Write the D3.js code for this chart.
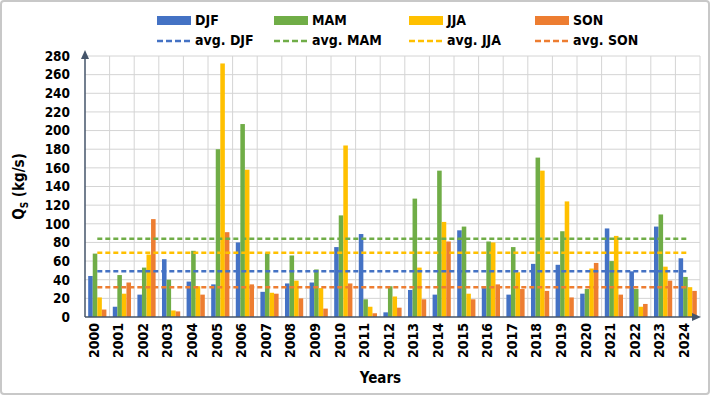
<!DOCTYPE html>
<html>
<head>
<meta charset="utf-8">
<script src="https://cdn.jsdelivr.net/npm/d3@7/dist/d3.min.js"></script>
<style>
  html, body { margin: 0; padding: 0; background: #fff; }
  svg text { font-family: "Liberation Sans Narrow", "Arial Narrow", "DejaVu Sans Condensed", sans-serif; font-weight: bold; fill: #000; }
</style>
</head>
<body>
<svg id="chart" width="710" height="395"></svg>
<script>
const years = ["2000","2001","2002","2003","2004","2005","2006","2007","2008","2009","2010","2011","2012","2013","2014","2015","2016","2017","2018","2019","2020","2021","2022","2023","2024"];
const seasons = ["DJF","MAM","JJA","SON"];
const djf = [44,11,24,62,38,35,80,27,36,37,75,89,5,29,24,93,31,24,57,56,25,95,49,97,63];
const mam = [68,45,53,40,71,180,207,69,66,51,109,19,33,127,157,97,81,75,171,92,30,60,30,110,43];
const jja = [21,25,67,7,33,272,158,26,39,31,184,11,22,53,102,25,80,48,157,124,52,87,11,54,32];
const son = [8,37,105,6,24,91,35,25,20,9,36,4,10,19,81,19,35,30,28,21,58,24,14,39,28];
const avgValues = [49,84,69,32];
const yTicks = [0,20,40,60,80,100,120,140,160,180,200,220,240,260,280];
const colors = ["#4472C4","#70AD47","#FFC000","#ED7D31"];

const seriesVals = [djf, mam, jja, son];
const W = 710, H = 395;
const plot = {left: 85, right: 700, top: 56, bottom: 317};

const svg = d3.select("#chart");

// outer frame
svg.append("rect").attr("x",1).attr("y",1).attr("width",W-2).attr("height",H-2)
  .attr("fill","#fff").attr("stroke","#c8c8c8").attr("stroke-width",2).attr("rx",3);

const x0 = d3.scaleBand().domain(years).range([plot.left, plot.right]).padding(0);
const x1 = d3.scaleBand().domain(seasons).range([0, x0.bandwidth()]).paddingInner(0).paddingOuter(0.7);
const y = d3.scaleLinear().domain([0,280]).range([plot.bottom, plot.top]);

// horizontal gridlines
svg.append("g").selectAll("line").data(yTicks.filter(t=>t>0)).join("line")
  .attr("x1", plot.left).attr("x2", plot.right)
  .attr("y1", d=>y(d)).attr("y2", d=>y(d))
  .attr("stroke","#d4d4d4").attr("stroke-width",1);

// vertical gridlines at band boundaries
svg.append("g").selectAll("line").data(years.slice(1).concat(["end"])).join("line")
  .attr("x1", (d,i)=> i < years.length-1 ? x0(d) : plot.right)
  .attr("x2", (d,i)=> i < years.length-1 ? x0(d) : plot.right)
  .attr("y1", plot.top).attr("y2", plot.bottom)
  .attr("stroke","#d4d4d4").attr("stroke-width",1);

// bars
const rows = years.map((yr,i)=>({year: yr, vals: seasons.map((s,k)=>({s, k, v: seriesVals[k][i]}))}));
const g = svg.append("g").selectAll("g").data(rows).join("g")
  .attr("transform", d=>`translate(${x0(d.year)},0)`);
g.selectAll("rect").data(d=>d.vals).join("rect")
  .attr("x", d=>x1(d.s)).attr("width", x1.bandwidth())
  .attr("y", d=>y(d.v)).attr("height", d=>y(0)-y(d.v))
  .attr("fill", d=>colors[d.k]);

// average lines
const xStart = x0(years[0]) + x0.bandwidth()/2;
const xEnd = x0(years[years.length-1]) + x0.bandwidth()/2;
svg.append("g").selectAll("line").data(avgValues).join("line")
  .attr("x1", xStart).attr("x2", xEnd)
  .attr("y1", d=>y(d)).attr("y2", d=>y(d))
  .attr("stroke", (d,i)=>colors[i]).attr("stroke-width",2.5)
  .attr("stroke-dasharray","5,3");

// axes
const axisColor = "#44546A";
const yAxis = svg.append("g").attr("transform",`translate(${plot.left},0)`)
  .call(d3.axisLeft(y).tickValues(yTicks).tickSize(0).tickPadding(15));
yAxis.select(".domain").remove();
yAxis.selectAll("text").attr("font-size",13.5).attr("fill","#000");

const xAxis = svg.append("g").attr("transform",`translate(0,${plot.bottom})`)
  .call(d3.axisBottom(x0).tickSize(0).tickPadding(6));
xAxis.select(".domain").remove();
xAxis.selectAll("text").attr("font-size",14).attr("fill","#000")
  .attr("transform","rotate(-90)").attr("text-anchor","end")
  .attr("dx","-6").attr("dy","-0.2em").attr("x",0).attr("y",0)
  .attr("dominant-baseline","middle");

// axis lines with arrows
svg.append("line").attr("x1",plot.left).attr("x2",plot.left).attr("y1",plot.bottom).attr("y2",plot.top-2)
  .attr("stroke",axisColor).attr("stroke-width",1.5);
svg.append("path").attr("d",`M${plot.left-4},${plot.top+3} L${plot.left},${plot.top-6} L${plot.left+4},${plot.top+3} Z`).attr("fill",axisColor);
svg.append("line").attr("x1",plot.left).attr("x2",plot.right-2).attr("y1",plot.bottom).attr("y2",plot.bottom)
  .attr("stroke",axisColor).attr("stroke-width",1.5);
svg.append("path").attr("d",`M${plot.right-8},${plot.bottom-4} L${plot.right+1},${plot.bottom} L${plot.right-8},${plot.bottom+4} Z`).attr("fill",axisColor);

// axis titles
const yt = svg.append("text").attr("transform",`translate(24,${(plot.top+plot.bottom)/2}) rotate(-90)`)
  .attr("text-anchor","middle").attr("font-size",15);
yt.append("tspan").text("Q");
yt.append("tspan").text("S").attr("font-size",10).attr("dy",4);
yt.append("tspan").text(" (kg/s)").attr("dy",-4);

svg.append("text").attr("x",(plot.left+plot.right)/2 - 12).attr("y",383)
  .attr("text-anchor","middle").attr("font-size",15).text("Years");

// legend
const legX = [157, 274, 409, 535];
const leg = svg.append("g");
seasons.forEach((s,i)=>{
  leg.append("rect").attr("x",legX[i]).attr("y",16).attr("width",34).attr("height",9).attr("fill",colors[i]);
  leg.append("text").attr("x",legX[i]+38).attr("y",21).attr("dominant-baseline","middle")
    .attr("font-size",14).text(s);
  leg.append("line").attr("x1",legX[i]).attr("x2",legX[i]+36).attr("y1",41).attr("y2",41)
    .attr("stroke",colors[i]).attr("stroke-width",2.5).attr("stroke-dasharray","6,3");
  leg.append("text").attr("x",legX[i]+38).attr("y",41).attr("dominant-baseline","middle")
    .attr("font-size",14).text("avg. " + s);
});
</script>
</body>
</html>
